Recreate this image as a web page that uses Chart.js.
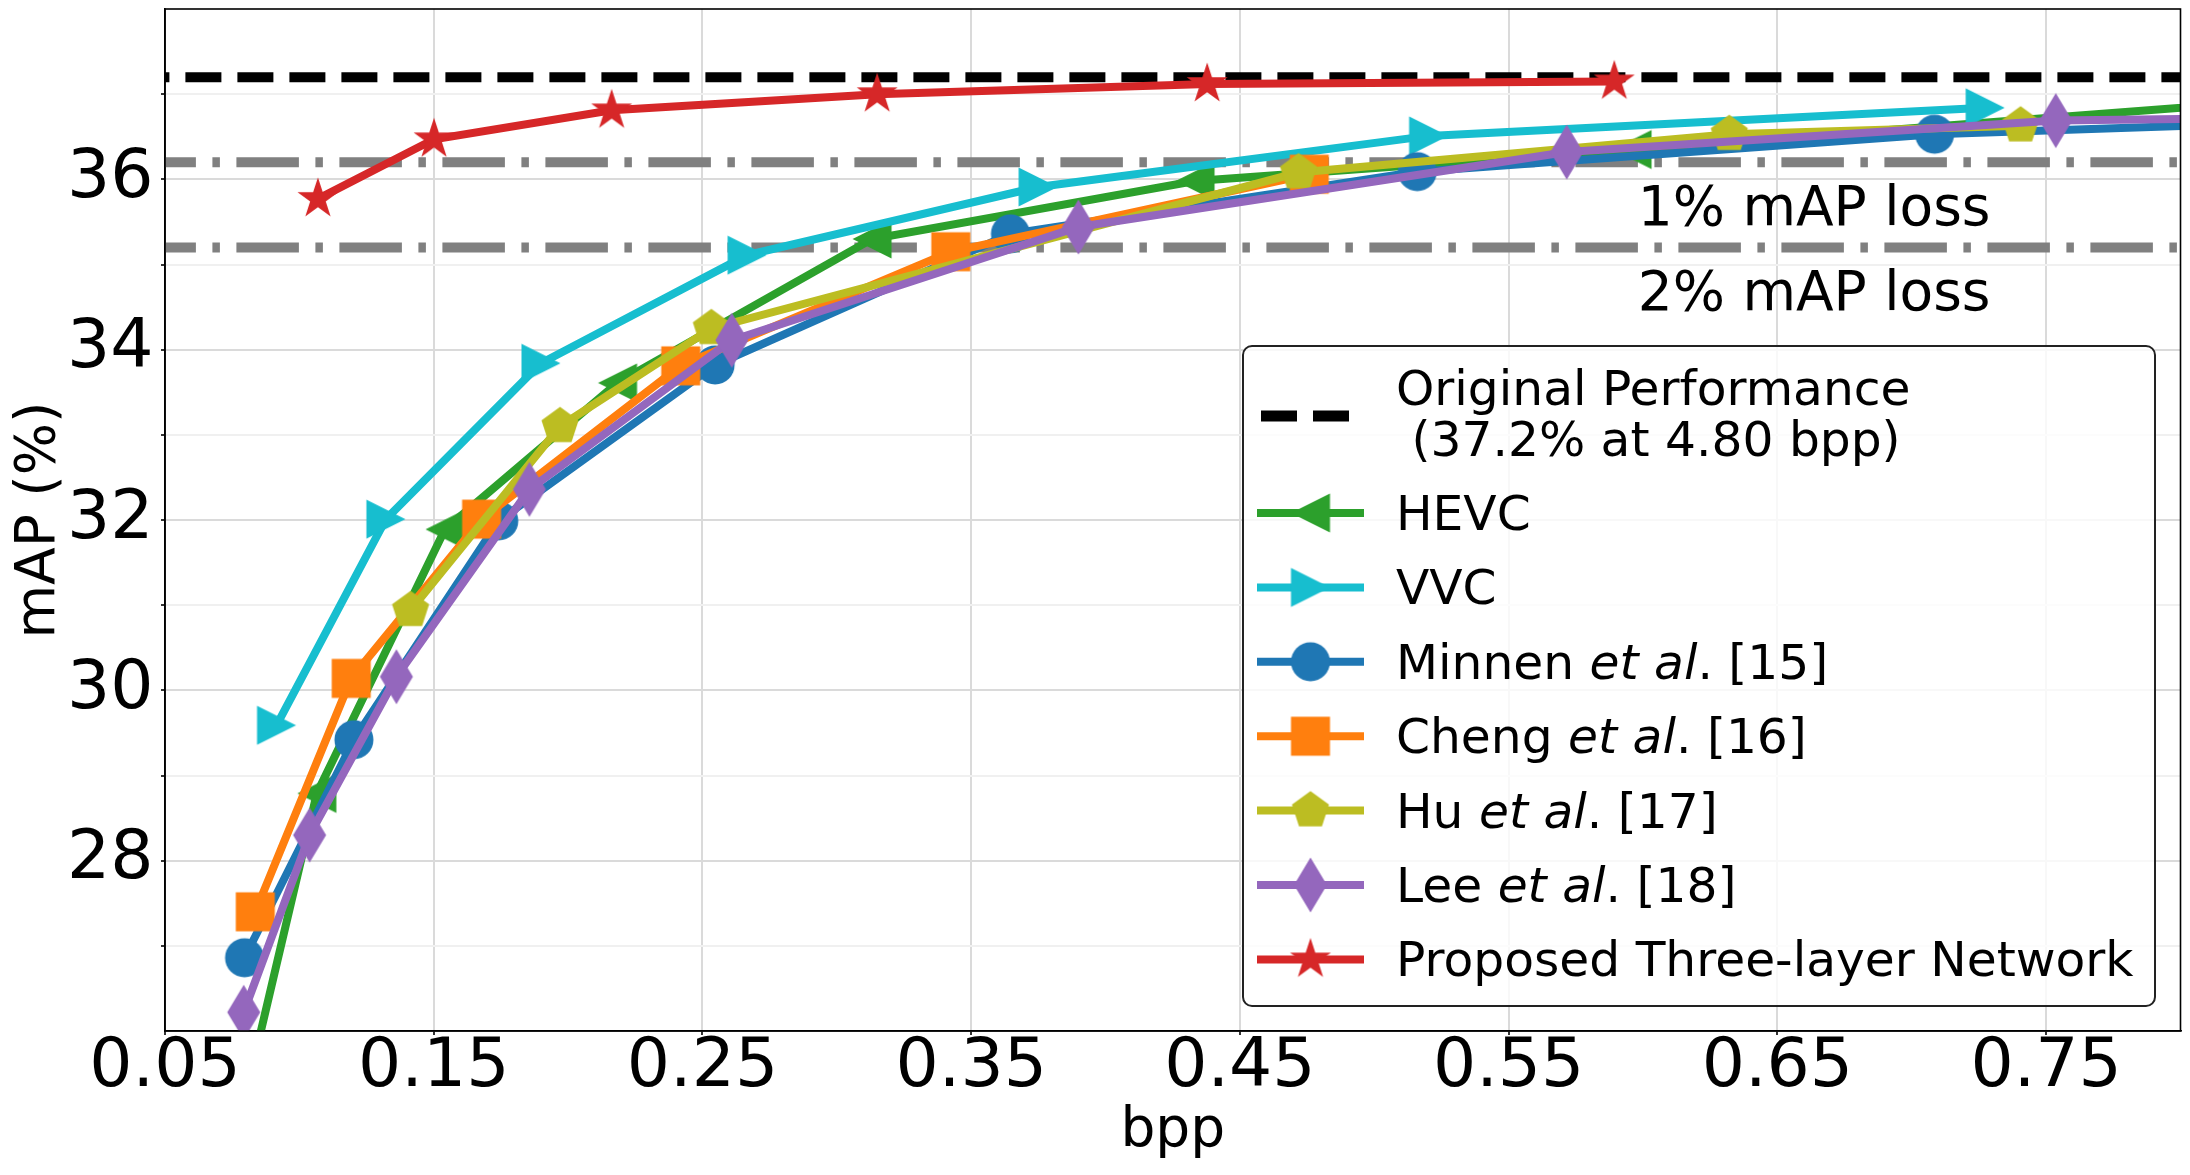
<!DOCTYPE html>
<html>
<head>
<meta charset="utf-8">
<script src="https://cdn.jsdelivr.net/npm/chart.js@4.4.1/dist/chart.umd.min.js"></script>
<style>
  html, body { margin: 0; padding: 0; background: #fff; }
  #wrap { width: 2190px; height: 1175px; }
</style>
</head>
<body>
<div id="wrap"><canvas id="mapChart" width="2190" height="1175"></canvas></div>
<script>
// Data (bpp vs mAP %)
const hevcBpp = [0.083, 0.1065, 0.1542, 0.2184, 0.3131, 0.4333, 0.5959, 0.85];
const hevcMap = [25.64, 28.79, 31.89, 33.61, 35.30, 35.98, 36.35, 36.96];

const vvcBpp = [0.0915, 0.1322, 0.1899, 0.2666, 0.3749, 0.5202, 0.7273];
const vvcMap = [29.59, 32.01, 33.84, 35.11, 35.91, 36.51, 36.84];

const minnenBpp = [0.0796, 0.1203, 0.1742, 0.2547, 0.3646, 0.516, 0.7085, 0.85];
const minnenMap = [26.86, 29.42, 31.99, 33.82, 35.36, 36.09, 36.53, 36.68];

const chengBpp = [0.0836, 0.1193, 0.1678, 0.2419, 0.3424, 0.4758];
const chengMap = [27.40, 30.14, 32.01, 33.81, 35.15, 36.06];

const huBpp = [0.1414, 0.197, 0.2533, 0.4718, 0.6321, 0.7405];
const huMap = [30.94, 33.10, 34.25, 36.08, 36.53, 36.63];

const leeBpp = [0.0793, 0.1038, 0.1361, 0.1856, 0.2609, 0.3899, 0.5716, 0.7536, 0.85];
const leeMap = [26.22, 28.30, 30.16, 32.36, 34.11, 35.44, 36.32, 36.69, 36.73];

const proposedBpp = [0.1069, 0.1501, 0.2162, 0.315, 0.4378, 0.5893];
const proposedMap = [35.77, 36.47, 36.81, 37.0, 37.12, 37.15];

// reference levels
const originalMap = 37.2;
const lossLevels = [36.2, 35.2];
const lossLabels = ['1% mAP loss', '2% mAP loss'];
const refBpp = [0.05, 0.80];

// axes
const xTicks = [0.05, 0.15, 0.25, 0.35, 0.45, 0.55, 0.65, 0.75];
const xTickLabels = ['0.05', '0.15', '0.25', '0.35', '0.45', '0.55', '0.65', '0.75'];
const yMajor = [28, 30, 32, 34, 36];
const yMinor = [27, 29, 31, 33, 35, 37];

const seriesNames = ['HEVC', 'VVC', 'Minnen et al. [15]', 'Cheng et al. [16]', 'Hu et al. [17]', 'Lee et al. [18]', 'Proposed Three-layer Network'];
const originalLines = ['Original Performance', ' (37.2% at 4.80 bpp)'];

const FONT = '"DejaVu Sans", "Liberation Sans", sans-serif';

// marker images, sized like the matplotlib markers
function makeMarker(kind, color) {
  const c = document.createElement('canvas');
  c.width = 60; c.height = 60;
  const g = c.getContext('2d');
  g.fillStyle = color;
  g.translate(30, 30);
  g.beginPath();
  if (kind === 'circle') {
    g.arc(0, 0, 19.5, 0, Math.PI * 2);
  } else if (kind === 'square') {
    g.rect(-19.5, -19.5, 39, 39);
  } else if (kind === 'tri-left') {
    g.moveTo(-19.5, 0); g.lineTo(19.5, -19.5); g.lineTo(19.5, 19.5);
  } else if (kind === 'tri-right') {
    g.moveTo(19.5, 0); g.lineTo(-19.5, -19.5); g.lineTo(-19.5, 19.5);
  } else if (kind === 'pentagon') {
    for (let i = 0; i < 5; i++) {
      const a = -Math.PI / 2 + i * 2 * Math.PI / 5;
      g.lineTo(19.5 * Math.cos(a), 19.5 * Math.sin(a));
    }
  } else if (kind === 'thin-diamond') {
    g.moveTo(0, -27.5); g.lineTo(16.5, 0); g.lineTo(0, 27.5); g.lineTo(-16.5, 0);
  } else if (kind === 'star') {
    for (let i = 0; i < 10; i++) {
      const a = -Math.PI / 2 + i * Math.PI / 5;
      const r = i % 2 ? 21.5 * 0.381966 : 21.5;
      g.lineTo(r * Math.cos(a), r * Math.sin(a));
    }
  }
  g.closePath();
  g.fill();
  return c;
}

const colors = ['#2ca02c', '#17becf', '#1f77b4', '#ff7f0e', '#bcbd22', '#9467bd', '#d62728'];
const shapes = ['tri-left', 'tri-right', 'circle', 'square', 'pentagon', 'thin-diamond', 'star'];
const markers = shapes.map((s, i) => makeMarker(s, colors[i]));

const xs = [hevcBpp, vvcBpp, minnenBpp, chengBpp, huBpp, leeBpp, proposedBpp];
const ys = [hevcMap, vvcMap, minnenMap, chengMap, huMap, leeMap, proposedMap];

const pts = (a, b) => a.map((v, i) => ({ x: v, y: b[i] }));

const datasets = seriesNames.map((name, i) => ({
  label: name,
  data: pts(xs[i], ys[i]),
  borderColor: colors[i],
  backgroundColor: colors[i],
  borderWidth: 8,
  pointStyle: markers[i],
  pointRadius: 20,
  pointBorderWidth: 0,
  tension: 0,
  clip: 0,
  order: 7 - i
}));

function refLine(level, color, dash) {
  return {
    label: 'ref',
    data: refBpp.map(v => ({ x: v, y: level })),
    borderColor: color,
    borderWidth: 10,
    borderDash: dash,
    borderDashOffset: 31.6,
    borderCapStyle: 'butt',
    pointRadius: 0,
    clip: 0,
    order: 10
  };
}
datasets.push(refLine(originalMap, '#000000', [36, 16]));
lossLevels.forEach(l => datasets.push(refLine(l, '#808080', [62.5, 16.5, 7.5, 16.5])));

// text, spines and legend on top of the plot
const decor = {
  id: 'decor',
  afterDatasetsDraw(chart) {
    const { ctx, chartArea: a, scales: { x, y } } = chart;
    ctx.save();

    ctx.strokeStyle = '#000';
    ctx.lineWidth = 1.6;
    ctx.strokeRect(a.left, a.top, a.right - a.left, a.bottom - a.top);

    ctx.fillStyle = '#000';
    ctx.font = '55px ' + FONT;
    ctx.textAlign = 'left';
    ctx.textBaseline = 'alphabetic';
    lossLabels.forEach((t, i) => {
      ctx.fillText(t, x.getPixelForValue(0.598), y.getPixelForValue(lossLevels[i] - 0.735));
    });

    // axis titles
    ctx.textAlign = 'center';
    ctx.fillText('bpp', (a.left + a.right) / 2, 1146);
    ctx.save();
    ctx.translate(54, (a.top + a.bottom) / 2);
    ctx.rotate(-Math.PI / 2);
    ctx.fillText('mAP (%)', 0, 0);
    ctx.restore();

    // legend
    const bx = 1243, by = 346, bw = 912, bh = 660, r = 9;
    ctx.beginPath();
    ctx.moveTo(bx + r, by);
    ctx.arcTo(bx + bw, by, bx + bw, by + bh, r);
    ctx.arcTo(bx + bw, by + bh, bx, by + bh, r);
    ctx.arcTo(bx, by + bh, bx, by, r);
    ctx.arcTo(bx, by, bx + bw, by, r);
    ctx.closePath();
    ctx.fillStyle = 'rgba(255,255,255,0.8)';
    ctx.fill();
    ctx.strokeStyle = '#222';
    ctx.lineWidth = 2;
    ctx.stroke();

    const hx0 = 1257, hx1 = 1364, mx = 1310.5, tx = 1396;

    ctx.beginPath();
    ctx.setLineDash([36, 16]);
    ctx.lineDashOffset = 0;
    ctx.strokeStyle = '#000';
    ctx.lineWidth = 11;
    ctx.lineCap = 'butt';
    ctx.moveTo(hx0 + 4, 416);
    ctx.lineTo(hx1, 416);
    ctx.stroke();
    ctx.setLineDash([]);

    ctx.fillStyle = '#000';
    ctx.textAlign = 'left';
    ctx.font = '48.7px ' + FONT;
    ctx.fillText(originalLines[0], tx, 405);
    ctx.fillText(originalLines[1], tx, 456);

    seriesNames.forEach((name, i) => {
      const hy = 513 + i * 74.4;
      ctx.beginPath();
      ctx.strokeStyle = colors[i];
      ctx.lineWidth = 8;
      ctx.moveTo(hx0, hy);
      ctx.lineTo(hx1, hy);
      ctx.stroke();
      ctx.drawImage(markers[i], mx - 30, hy - 30);

      let cx = tx;
      ctx.fillStyle = '#000';
      name.split(/(et al)/).forEach(seg => {
        if (!seg) return;
        ctx.font = (seg === 'et al' ? 'oblique ' : '') + '48.7px ' + FONT;
        ctx.fillText(seg, cx, hy + 17);
        cx += ctx.measureText(seg).width;
      });
    });

    ctx.restore();
  }
};

function noPad(s) {
  s.paddingTop = 0; s.paddingBottom = 0; s.paddingLeft = 0; s.paddingRight = 0;
}

const ctx = document.getElementById('mapChart').getContext('2d');
new Chart(ctx, {
  type: 'line',
  data: { datasets: datasets },
  options: {
    responsive: false,
    animation: false,
    devicePixelRatio: 1,
    layout: { autoPadding: false, padding: { top: 9, right: 9.5, bottom: 0, left: 0 } },
    plugins: { legend: { display: false }, tooltip: { enabled: false } },
    scales: {
      x: {
        type: 'linear',
        min: 0.05,
        max: 0.80,
        afterBuildTicks: s => { s.ticks = xTicks.map(v => ({ value: v })); },
        afterFit: s => { s.height = 144; noPad(s); },
        ticks: {
          autoSkip: false,
          maxRotation: 0,
          color: '#000',
          padding: 2.5,
          font: { family: FONT, size: 68, lineHeight: 0.9 },
          callback: v => xTickLabels[xTicks.indexOf(v)]
        },
        grid: { color: '#dadada', lineWidth: 2, tickColor: '#000', tickLength: 4, tickWidth: 1.6 },
        border: { color: '#000', width: 1.6 }
      },
      y: {
        type: 'linear',
        min: 26,
        max: 38,
        afterBuildTicks: s => { s.ticks = yMajor.concat(yMinor).sort((p, q) => p - q).map(v => ({ value: v })); },
        afterFit: s => { s.width = 165; noPad(s); },
        ticks: {
          autoSkip: false,
          color: '#000',
          padding: 7.5,
          font: { family: FONT, size: 68 },
          callback: v => yMajor.includes(v) ? String(v) : ''
        },
        grid: {
          color: c => (c.tick && yMinor.includes(c.tick.value)) ? '#f0f0f0' : '#dadada',
          lineWidth: 2,
          tickColor: '#000',
          tickLength: 4,
          tickWidth: 1.6
        },
        border: { color: '#000', width: 1.6 }
      }
    }
  },
  plugins: [decor]
});
</script>
</body>
</html>
